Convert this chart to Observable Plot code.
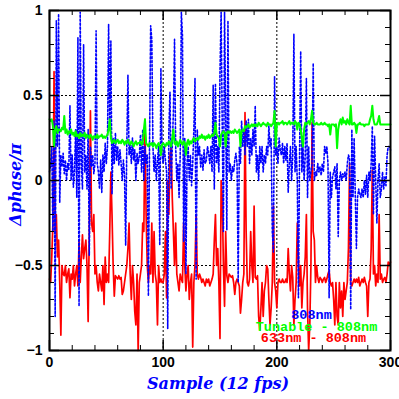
<!DOCTYPE html>
<html><head><meta charset="utf-8">
<script src="https://cdn.jsdelivr.net/npm/d3@7"></script>
<script src="https://cdn.jsdelivr.net/npm/@observablehq/plot@0.6"></script>
<style>body{margin:0;background:#fff} svg{display:block}</style>
</head><body><div id="chart"></div>
<script>
// Δphase/π per sample (samples 0..300)
const phase808 = [
 0.05, 0.09, 0.2, -0.3, 0.35, -0.8, 0.94, 0.2, 0.98, -0.13,
 0.15, 0.08, 0.16, 0.04, 0.12, 0.0, 0.1, 0.06, 0.44, 0.0,
 0.15, -0.04, 0.06, 0.3, -0.1, 0.84, -0.74, 0.99, 0.1, -0.05,
 0.8, 0.05, 0.15, -0.05, 0.3, -0.44, 0.2, 0.08, 0.15, 0.04,
 0.1, 0.88, 0.1, 0.05, -0.05, 0.12, -0.07, 0.15, 0.05, 0.22,
 0.1, 0.2, 0.92, 0.3, 0.82, -0.08, 0.25, 0.1, 0.28, 0.12,
 0.2, 0.09, 0.18, 0.1, 0.0, 0.12, 0.03, -0.38, 0.2, 0.62,
 0.15, 0.22, 0.1, 0.25, 0.12, 0.18, 0.0, 0.16, 0.1, 0.14,
 0.27, 0.05, 0.3, 0.0, 0.2, 0.1, 0.15, -0.68, 0.2, 0.91,
 0.83, 0.2, 0.05, 0.15, 0.0, 0.12, 0.2, -0.38, 0.66, 0.15,
 0.1, 0.2, 0.12, 0.05, -0.87, 0.3, 0.52, -0.05, 0.2, 0.4,
 0.83, 0.2, 0.0, 0.1, -0.1, 0.15, 0.99, 0.85, -0.36, 0.25,
 -0.55, 0.1, 0.2, 0.0, 0.15, -0.03, 0.1, 0.3, 0.6, -0.58,
 0.3, 0.15, 0.2, 0.08, 0.15, 0.06, 0.18, 0.1, 0.12, 0.2,
 0.16, 0.1, 0.2, 0.05, 0.56, -0.05, 0.57, 0.1, 0.2, 0.05,
 0.64, 0.99, 0.3, -0.3, 0.99, 0.4, -0.29, 0.94, 0.05, 0.1,
 0.0, 0.08, 0.05, 0.12, 0.16, 0.1, -0.6, 0.2, 0.1, 0.35,
 0.2, 0.3, 0.15, 0.35, 0.2, 0.36, 0.1, 0.25, 0.15, 0.3,
 0.2, 0.44, 0.05, 0.15, 0.0, 0.2, 0.1, 0.2, 0.05, 0.15,
 0.1, 0.2, 0.15, 0.32, 0.2, 0.25, -0.3, -0.42, 0.61, 0.15,
 0.2, 0.1, 0.25, 0.18, 0.15, 0.22, 0.1, 0.2, 0.12, 0.22,
 -0.07, 0.1, 0.2, 0.0, 0.15, 0.86, 0.05, 0.2, 0.0, -0.69,
 0.15, 0.76, 0.05, 0.2, 0.0, 0.15, 0.6, -0.1, 0.2, 0.0,
 0.05, 0.1, 0.69, 0.0, 0.05, 0.03, 0.1, 0.05, 0.08, 0.03,
 0.1, 0.05, 0.2, 0.16, 0.2, 0.1, -0.69, 0.05, -0.1, 0.02,
 0.05, 0.08, -0.05, 0.1, -0.33, 0.0, 0.05, 0.0, 0.04, 0.02,
 0.05, 0.0, 0.1, 0.15, 0.13, -0.76, 0.3, -0.1, 0.25, -0.08,
 -0.4, -0.1, -0.05, -0.08, -0.1, -0.05, -0.1, 0.0, -0.08, 0.03,
 -0.1, 0.05, 0.0, 0.1, 0.32, -0.2, 0.26, 0.0, -0.25, 0.0,
 0.1, -0.1, -0.05, 0.05, -0.05, 0.02, -0.03, 0.15, 0.2, 0.2,
 0.18
];
const phaseTunable = [
 0.36, 0.35, 0.36, 0.32, 0.2, 0.3, 0.32, 0.28, 0.3, 0.3,
 0.29, 0.31, 0.3, 0.38, 0.28, 0.3, 0.27, 0.29, 0.28, 0.3,
 0.27, 0.28, 0.26, 0.29, 0.26, 0.27, 0.25, 0.28, 0.26, 0.27,
 0.26, 0.28, 0.25, 0.27, 0.26, 0.25, 0.27, 0.26, 0.24, 0.26,
 0.26, 0.25, 0.27, 0.25, 0.26, 0.26, 0.27, 0.25, 0.26, 0.25,
 0.26, 0.27, 0.3, 0.36, 0.25, 0.22, 0.23, 0.24, 0.22, 0.23,
 0.24, 0.22, 0.23, 0.22, 0.24, 0.23, 0.21, 0.23, 0.22, 0.24,
 0.22, 0.21, 0.23, 0.22, 0.2, 0.22, 0.23, 0.21, 0.22, 0.22,
 0.23, 0.21, 0.22, 0.3, 0.36, 0.22, 0.21, 0.2, 0.22, 0.21,
 0.22, 0.2, 0.22, 0.21, 0.19, 0.21, 0.22, 0.2, 0.15, 0.21,
 0.22, 0.21, 0.2, 0.22, 0.21, 0.23, 0.22, 0.2, 0.25, 0.3,
 0.22, 0.21, 0.23, 0.2, 0.22, 0.24, 0.22, 0.21, 0.23, 0.22,
 0.15, 0.22, 0.24, 0.21, 0.23, 0.22, 0.24, 0.25, 0.23, 0.24,
 0.25, 0.24, 0.26, 0.25, 0.27, 0.25, 0.26, 0.24, 0.26, 0.25,
 0.27, 0.25, 0.26, 0.27, 0.26, 0.28, 0.34, 0.27, 0.26, 0.25,
 0.2, 0.27, 0.28, 0.29, 0.28, 0.2, 0.28, 0.29, 0.28, 0.29,
 0.28, 0.29, 0.28, 0.3, 0.29, 0.28, 0.29, 0.3, 0.2, 0.29,
 0.3, 0.29, 0.32, 0.31, 0.32, 0.33, 0.31, 0.32, 0.33, 0.32,
 0.33, 0.32, 0.33, 0.32, 0.34, 0.33, 0.32, 0.33, 0.34, 0.33,
 0.33, 0.32, 0.34, 0.33, 0.33, 0.32, 0.33, 0.34, 0.41, 0.2,
 0.33, 0.34, 0.33, 0.34, 0.34, 0.35, 0.33, 0.34, 0.34, 0.33,
 0.34, 0.35, 0.33, 0.34, 0.34, 0.33, 0.35, 0.34, 0.3, 0.34,
 0.33, 0.3, 0.25, 0.2, 0.3, 0.34, 0.33, 0.34, 0.35, 0.33,
 0.36, 0.41, 0.34, 0.33, 0.33, 0.34, 0.33, 0.33, 0.33, 0.34,
 0.33, 0.33, 0.34, 0.33, 0.33, 0.32, 0.33, 0.27, 0.33, 0.33,
 0.33, 0.32, 0.33, 0.19, 0.3, 0.34, 0.36, 0.33, 0.37, 0.34,
 0.35, 0.33, 0.36, 0.34, 0.33, 0.44, 0.33, 0.33, 0.34, 0.33,
 0.28, 0.33, 0.33, 0.34, 0.33, 0.33, 0.33, 0.32, 0.33, 0.33,
 0.33, 0.33, 0.36, 0.38, 0.44, 0.36, 0.33, 0.33, 0.33, 0.35,
 0.38, 0.33, 0.33, 0.33, 0.33, 0.33, 0.33, 0.33, 0.33, 0.33,
 0.33
];
const phase633 = [
 -0.58, -0.6, -0.45, -0.25, 0.64, -0.3, -0.2, -0.45, -0.35, -0.6,
 -0.91, -0.5, -0.55, -0.56, -0.5, -0.6, -0.55, -0.52, -0.69, -0.55,
 -0.58, -0.5, -0.62, -0.55, -0.5, -0.62, -0.36, -0.6, -0.45, -0.32,
 -0.46, -0.4, -0.35, -0.5, -0.83, -0.3, 0.41, -0.25, -0.3, -0.2,
 -0.55, -0.5, -0.6, -0.65, -0.55, -0.6, -0.65, -0.5, -0.73, -0.45,
 -0.6, -0.55, -0.6, -0.3, 0.05, -0.2, -0.5, -0.68, -0.56, -0.57,
 -0.58, -0.56, -0.58, -0.57, -0.67, -0.65, -0.6, -0.55, -0.5, -0.4,
 -0.25, -0.55, -0.7, -0.5, -0.6, -0.77, -0.85, -0.55, -1.0, -0.6,
 -0.55, -0.5, -0.25, -0.3, 0.36, -0.2, -0.5, -0.6, -0.5, -0.55,
 -0.25, -0.6, -0.3, -0.55, -0.6, -0.85, -0.5, -0.6, -0.58, -0.6,
 -0.6, -0.55, -0.3, -0.69, 0.0, -0.2, 0.15, 0.19, -0.1, -0.3,
 -0.5, -0.25, -0.55, -0.6, -0.65, -0.55, -0.58, -0.6, -0.25, -0.5,
 -0.65, -0.55, -0.5, -0.7, -0.6, -0.55, -0.98, -0.6, -0.5, -0.2,
 -0.55, -0.58, -0.55, -0.57, -0.6, -0.58, -0.6, -0.62, -0.58, -0.6,
 -0.58, -0.62, -0.6, -0.58, -0.55, -0.35, -0.2, -0.5, -0.4, -0.6,
 -0.93, 0.0, -0.1, -0.5, -0.74, -0.3, -0.56, -0.6, -0.55, -0.56,
 -0.57, -0.56, -0.6, -0.67, -0.6, -0.58, -0.6, -0.62, -0.78, -0.7,
 -0.6, -0.55, 0.4, -0.3, -0.6, -0.62, -0.58, -0.3, -0.5, -0.6,
 -0.15, -0.57, -0.58, -0.56, -0.8, -0.88, -0.75, -0.6, -0.8, -0.65,
 -0.6, -0.5, -0.52, -0.7, -0.85, -0.75, -0.6, -0.15, -0.6, -0.65,
 -0.75, -0.6, -0.58, -0.6, -0.6, -0.58, -0.6, -0.6, -0.58, -0.6,
 -0.4, -0.55, -0.65, -0.5, -0.57, -0.85, -0.7, -0.6, -0.25, -0.45,
 -0.62, -0.5, -0.75, -0.6, -0.55, -0.45, -0.2, -0.75, -1.0, -0.85,
 -0.5, 0.34, -0.3, -0.35, -0.6, -0.5, -0.57, -0.6, -0.57, -0.58,
 -0.6, -0.58, -0.57, -0.6, -0.58, -0.55, -0.53, -0.6, -0.62, -0.6,
 -0.7, -0.85, -0.6, -0.8, -0.85, -0.6, -0.75, -0.65, -0.8, -0.6,
 -0.7, -0.65, -0.6, -0.4, 0.1, -0.6, -0.62, -0.6, -0.58, -0.6,
 -0.58, -0.6, -0.57, -0.62, -0.6, -0.58, -0.6, -0.57, -0.6, -0.62,
 -0.8, -0.6, -0.58, -0.4, 0.06, -0.55, -0.5, -0.62, -0.55, -0.6,
 -0.2, -0.58, -0.55, -0.6, -0.58, -0.57, -0.6, -0.55, -0.48, -0.5,
 -0.48
];
const xMajorTicks = [0, 100, 200, 300];
const xMinorTicks = [20, 40, 60, 80, 120, 140, 160, 180, 220, 240, 260, 280];
const yMajorTicks = [-1, -0.5, 0, 0.5, 1];
const yMinorTicks = [-0.9, -0.8, -0.7, -0.6, -0.4, -0.3, -0.2, -0.1, 0.1, 0.2, 0.3, 0.4, 0.6, 0.7, 0.8, 0.9];
const xGrid = [100, 200];
const yGrid = [-0.5, 0, 0.5];
const legendLabels = ["808nm", "Tunable - 808nm", "633nm - 808nm"];
const legendColors = ["#0000ff", "#00ff00", "#ff0000"];
const xLabel = "Sample (12 fps)";
const yLabel = "Δphase/π";

const rows = arr => arr.map((v, i) => ({sample: i, v}));
const fmt = d => (d < 0 ? "\u2212" : "") + Math.abs(d);
const axisText = {fill: "black", fontWeight: "bold", fontSize: 14, fontFamily: "Liberation Sans"};
const labelStyle = {fill: "#0000ff", fontStyle: "italic", fontWeight: "bold", fontSize: 16, fontFamily: "DejaVu Serif", textAnchor: "middle"};
const legendStyle = {frameAnchor: "bottom-right", textAnchor: "middle", lineAnchor: "bottom",
  fontFamily: "Liberation Mono", fontWeight: "bold", fontSize: 13.5, text: d => d};

const chart = Plot.plot({
  width: 399, height: 399,
  marginLeft: 49, marginRight: 9, marginTop: 10, marginBottom: 49,
  x: {domain: [0, 300], axis: null},
  y: {domain: [-1, 1], axis: null},
  style: {background: "white"},
  marks: [
    Plot.ruleX(xGrid, {stroke: "black", strokeWidth: 1, strokeDasharray: "2,2"}),
    Plot.ruleY(yGrid, {stroke: "black", strokeWidth: 1, strokeDasharray: "2,2"}),
    Plot.line(rows(phase633), {x: "sample", y: "v", stroke: legendColors[2], strokeWidth: 1.7}),
    Plot.line(rows(phase808), {x: "sample", y: "v", stroke: legendColors[0], strokeWidth: 1.6, strokeDasharray: "2,2"}),
    Plot.line(rows(phaseTunable), {x: "sample", y: "v", stroke: legendColors[1], strokeWidth: 2}),
    // ticks (inward, all four sides)
    Plot.tickX(xMinorTicks, {x: d => d, stroke: "black", insetTop: 335}),
    Plot.tickX(xMinorTicks, {x: d => d, stroke: "black", insetBottom: 335}),
    Plot.tickX(xMajorTicks, {x: d => d, stroke: "black", strokeWidth: 1.5, insetTop: 330}),
    Plot.tickX(xMajorTicks, {x: d => d, stroke: "black", strokeWidth: 1.5, insetBottom: 330}),
    Plot.tickY(yMinorTicks, {y: d => d, stroke: "black", insetRight: 336}),
    Plot.tickY(yMinorTicks, {y: d => d, stroke: "black", insetLeft: 336}),
    Plot.tickY(yMajorTicks, {y: d => d, stroke: "black", strokeWidth: 1.5, insetRight: 331}),
    Plot.tickY(yMajorTicks, {y: d => d, stroke: "black", strokeWidth: 1.5, insetLeft: 331}),
    Plot.frame({stroke: "black", strokeWidth: 2}),
    // tick labels
    Plot.text(xMajorTicks, {x: d => d, frameAnchor: "bottom", lineAnchor: "top", dy: 7, text: fmt, ...axisText}),
    Plot.text(yMajorTicks, {y: d => d, frameAnchor: "left", textAnchor: "end", lineAnchor: "middle", dx: -7, text: fmt, ...axisText}),
    // axis titles
    Plot.text([xLabel], {frameAnchor: "bottom", lineAnchor: "bottom", dx: -2, dy: 38, text: d => d, ...labelStyle}),
    Plot.text([yLabel], {frameAnchor: "left", lineAnchor: "bottom", rotate: -90, dx: -29, dy: 4, text: d => d, ...labelStyle}),
    // legend
    Plot.text([legendLabels[0]], {...legendStyle, dx: -79, dy: -32, fill: legendColors[0]}),
    Plot.text([legendLabels[1]], {...legendStyle, dx: -74, dy: -20, fill: legendColors[1]}),
    Plot.text([legendLabels[2]], {...legendStyle, dx: -77, dy: -9, fill: legendColors[2]})
  ]
});
document.getElementById("chart").append(chart);
</script>
</body></html>
